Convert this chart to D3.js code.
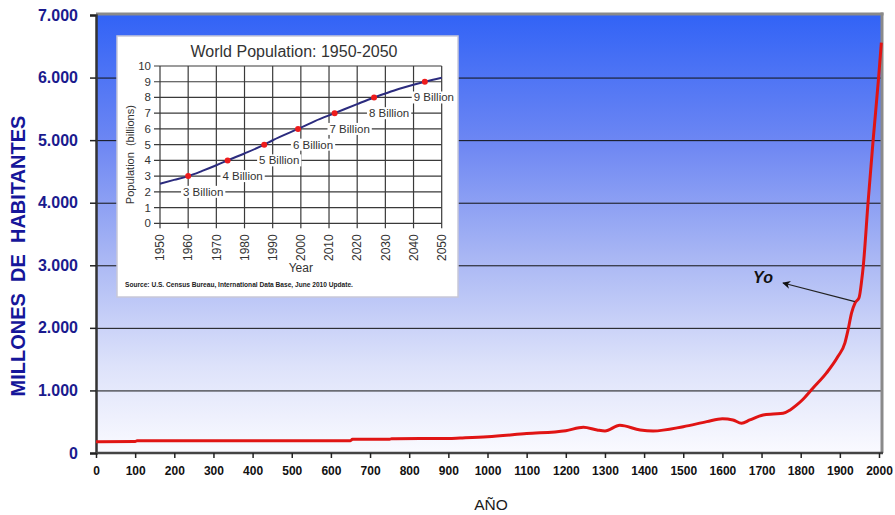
<!DOCTYPE html>
<html>
<head>
<meta charset="utf-8">
<script src="https://cdn.jsdelivr.net/npm/d3@7"></script>
<style>
  html, body { margin: 0; padding: 0; background: #ffffff; }
  svg { display: block; font-family: "Liberation Sans", Arial, sans-serif; }
</style>
</head>
<body>
<svg id="chart" width="895" height="515"></svg>
<script>
// ---------- main chart data (millions of inhabitants) ----------
const years = [0, 100, 105, 650, 655, 750, 755, 900, 930, 1000, 1100, 1200, 1245, 1280, 1300, 1338, 1390, 1423, 1500, 1560, 1600, 1627, 1649, 1670, 1704, 1730, 1755, 1773, 1790, 1806, 1831, 1866, 1895, 1913, 1921, 1930, 1939, 1949, 1956, 1960, 1972, 1985, 1999, 2006];
const population = [180, 182, 197, 197, 219, 219, 229, 232, 240, 261, 310, 357, 411, 368, 352, 443, 368, 352, 421, 501, 549, 528, 475, 528, 608, 624, 635, 688, 768, 860, 1035, 1280, 1541, 1760, 1968, 2240, 2400, 2480, 2770, 3000, 4000, 5000, 6000, 6560];
const yTicks = [0, 1000, 2000, 3000, 4000, 5000, 6000, 7000];
const xTicks = d3.range(0, 2001, 100);

// ---------- inset data (billions) ----------
const insetYears = [1950, 1955, 1960, 1965, 1970, 1974, 1980, 1987, 1990, 1999, 2000, 2005, 2012, 2020, 2026, 2030, 2035, 2044, 2050];
const insetPop = [2.52, 2.76, 3.0, 3.33, 3.69, 4.0, 4.44, 5.0, 5.28, 6.0, 6.08, 6.5, 7.0, 7.58, 8.0, 8.25, 8.55, 9.0, 9.25];
const milestoneYears = [1960, 1974, 1987, 1999, 2012, 2026, 2044];
const milestoneValues = [3, 4, 5, 6, 7, 8, 9];
const milestoneLabels = ["3 Billion", "4 Billion", "5 Billion", "6 Billion", "7 Billion", "8 Billion", "9 Billion"];
const insetXTicks = d3.range(1950, 2051, 10);
const insetYTicks = d3.range(0, 11, 1);

const svg = d3.select("#chart");
const defs = svg.append("defs");

// ---------- scales ----------
const x = d3.scaleLinear().domain([0, 2000]).range([96, 879]);
const y = d3.scaleLinear().domain([0, 7000]).range([453, 15]);

// background gradient
const grad = defs.append("linearGradient").attr("id", "bg").attr("x1", 0).attr("y1", 0).attr("x2", 0).attr("y2", 1);
[[0, "#3263f6"], [0.3, "#6f88f3"], [0.55, "#a8b6f4"], [0.8, "#dde2fa"], [1, "#fafaff"]]
  .forEach(([o, c]) => grad.append("stop").attr("offset", o).attr("stop-color", c));

const plotLeft = x(0), plotRight = 882, plotTop = y(7000), plotBottom = y(0);

svg.append("rect")
  .attr("x", plotLeft).attr("y", plotTop)
  .attr("width", plotRight - plotLeft).attr("height", plotBottom - plotTop)
  .attr("fill", "url(#bg)");

// gridlines
svg.append("g").selectAll("line")
  .data(yTicks.filter(d => d > 0 && d < 7000))
  .join("line")
  .attr("x1", plotLeft).attr("x2", plotRight)
  .attr("y1", d => y(d) + 0.5).attr("y2", d => y(d) + 0.5)
  .attr("stroke", "#111").attr("stroke-width", 1);

// frame top/right (grey)
svg.append("line").attr("x1", plotLeft).attr("x2", plotRight + 1.5)
  .attr("y1", plotTop - 1).attr("y2", plotTop - 1)
  .attr("stroke", "#8a8a8a").attr("stroke-width", 3);
svg.append("line").attr("x1", plotRight).attr("x2", plotRight)
  .attr("y1", plotTop - 2.5).attr("y2", plotBottom)
  .attr("stroke", "#8a8a8a").attr("stroke-width", 3);

// axes
const yAxis = d3.axisLeft(y).tickValues(yTicks).tickSize(6).tickPadding(12)
  .tickFormat(d => d3.format(",")(d).replace(/,/g, "."));
const gy = svg.append("g").attr("transform", `translate(${plotLeft},0)`).call(yAxis);
gy.select(".domain").attr("stroke", "#333").attr("stroke-width", 2.5);
gy.selectAll(".tick line").attr("stroke", "#222").attr("stroke-width", 1.5);
gy.selectAll(".tick text")
  .attr("fill", "#1a1a8e").attr("font-size", 16).attr("font-weight", "bold")
  .attr("font-family", "'Liberation Sans', Arial, sans-serif");

const xAxis = d3.axisBottom(x).tickValues(xTicks).tickSize(5).tickPadding(8).tickFormat(d3.format("d"));
const gx = svg.append("g").attr("transform", `translate(0,${plotBottom})`).call(xAxis);
gx.select(".domain").attr("stroke", "#444").attr("stroke-width", 2.5).attr("d", `M${plotLeft},0H${plotRight + 1}`);
gx.selectAll(".tick line").attr("stroke", "#222").attr("stroke-width", 1.5);
gx.selectAll(".tick text")
  .attr("fill", "#111").attr("font-size", 12).attr("font-weight", "bold")
  .attr("font-family", "'Liberation Sans', Arial, sans-serif");

// population line
const line = d3.line().x(d => x(d[0])).y(d => y(d[1])).curve(d3.curveMonotoneX);
svg.append("path")
  .datum(years.map((yr, i) => [yr, population[i]]))
  .attr("d", line)
  .attr("fill", "none").attr("stroke", "#e01414").attr("stroke-width", 3).attr("stroke-linejoin", "round");

// axis titles
svg.append("text")
  .attr("transform", `translate(25,${(plotTop + plotBottom) / 2 + 22}) rotate(-90)`)
  .attr("text-anchor", "middle")
  .attr("fill", "#16169a").attr("font-size", 20).attr("font-weight", "bold")
  .style("white-space", "pre")
  .text("MILLONES  DE  HABITANTES");

svg.append("text")
  .attr("x", 491).attr("y", 510).attr("text-anchor", "middle")
  .attr("fill", "#1a1a1a").attr("font-size", 15.5)
  .text("AÑO");

// "Yo" annotation
defs.append("marker").attr("id", "arrow").attr("viewBox", "0 0 10 10")
  .attr("refX", 9).attr("refY", 5).attr("markerWidth", 10).attr("markerHeight", 8)
  .attr("markerUnits", "userSpaceOnUse").attr("orient", "auto")
  .append("path").attr("d", "M10,5 L0,0 L3,5 L0,10 Z").attr("fill", "#111");
svg.append("line")
  .attr("x1", x(1941) - 1).attr("y1", y(2420))
  .attr("x2", 783).attr("y2", 283)
  .attr("stroke", "#222").attr("stroke-width", 1.2)
  .attr("marker-end", "url(#arrow)");
svg.append("text")
  .attr("x", 763).attr("y", 283).attr("text-anchor", "middle")
  .attr("fill", "#111").attr("font-size", 16).attr("font-weight", "bold").attr("font-style", "italic")
  .text("Yo");

// ---------- inset ----------
const inset = svg.append("g");
inset.append("rect")
  .attr("x", 117).attr("y", 36).attr("width", 341).attr("height", 261)
  .attr("fill", "#ffffff").attr("stroke", "#c8c8d8").attr("stroke-width", 1.5);

const ix = d3.scaleLinear().domain([1950, 2050]).range([160, 441.7]);
const iy = d3.scaleLinear().domain([0, 10]).range([223.3, 66]);

inset.append("text")
  .attr("x", 294).attr("y", 57).attr("text-anchor", "middle")
  .attr("fill", "#333").attr("font-size", 16)
  .text("World Population: 1950-2050");

// grid
inset.append("g").selectAll("line").data(insetYTicks).join("line")
  .attr("x1", ix(1950) - 6).attr("x2", ix(2050))
  .attr("y1", d => iy(d)).attr("y2", d => iy(d))
  .attr("stroke", "#3a3a3a").attr("stroke-width", 1.2);
inset.append("g").selectAll("line").data(insetXTicks).join("line")
  .attr("x1", d => ix(d)).attr("x2", d => ix(d))
  .attr("y1", iy(10)).attr("y2", iy(0) + 5)
  .attr("stroke", "#3a3a3a").attr("stroke-width", 1.2);

// tick labels
inset.append("g").selectAll("text").data(insetYTicks).join("text")
  .attr("x", ix(1950) - 9).attr("y", d => iy(d)).attr("dy", "0.35em")
  .attr("text-anchor", "end").attr("fill", "#333").attr("font-size", 11.5)
  .text(d => d);
inset.append("g").selectAll("text").data(insetXTicks).join("text")
  .attr("transform", d => `translate(${ix(d)},${iy(0) + 11}) rotate(-90)`)
  .attr("dy", "0.35em")
  .attr("text-anchor", "end").attr("fill", "#333").attr("font-size", 12)
  .text(d => d);

inset.append("text")
  .attr("x", (ix(1950) + ix(2050)) / 2).attr("y", 272).attr("text-anchor", "middle")
  .attr("fill", "#333").attr("font-size", 12).text("Year");
inset.append("text")
  .attr("transform", `translate(134,${(iy(0) + iy(10)) / 2 + 10}) rotate(-90)`)
  .attr("text-anchor", "middle").attr("fill", "#333").attr("font-size", 11)
  .style("white-space", "pre")
  .text("Population  (billions)");
inset.append("text")
  .attr("x", 125).attr("y", 287)
  .attr("fill", "#222").attr("font-size", 6.6).attr("font-weight", "bold")
  .text("Source: U.S. Census Bureau, International Data Base, June 2010 Update.");

// milestone labels (white background on gridline below)
const ms = milestoneYears.map((yr, i) => ({ yr, v: milestoneValues[i], label: milestoneLabels[i] }));
const lab = inset.append("g").selectAll("g").data(ms).join("g");
lab.each(function (d) {
  const g = d3.select(this);
  const t = g.append("text")
    .attr("y", iy(d.v - 1)).attr("dy", "0.35em")
    .attr("fill", "#333").attr("font-size", 11.5)
    .text(d.label);
  const w = t.node().getComputedTextLength();
  let cx = ix(d.yr) + 15;
  if (cx + w / 2 > 454) cx = 454 - w / 2;
  t.attr("x", cx - w / 2);
  g.insert("rect", "text")
    .attr("x", cx - w / 2 - 2).attr("y", iy(d.v - 1) - 6)
    .attr("width", w + 4).attr("height", 12)
    .attr("fill", "#ffffff");
});

// inset curve
const iline = d3.line().x(d => ix(d[0])).y(d => iy(d[1])).curve(d3.curveMonotoneX);
inset.append("path")
  .datum(insetYears.map((yr, i) => [yr, insetPop[i]]))
  .attr("d", iline)
  .attr("fill", "none").attr("stroke", "#2b2b7e").attr("stroke-width", 2);

inset.append("g").selectAll("circle").data(ms).join("circle")
  .attr("cx", d => ix(d.yr)).attr("cy", d => iy(d.v)).attr("r", 3)
  .attr("fill", "#ee1c1c");
</script>
</body>
</html>
